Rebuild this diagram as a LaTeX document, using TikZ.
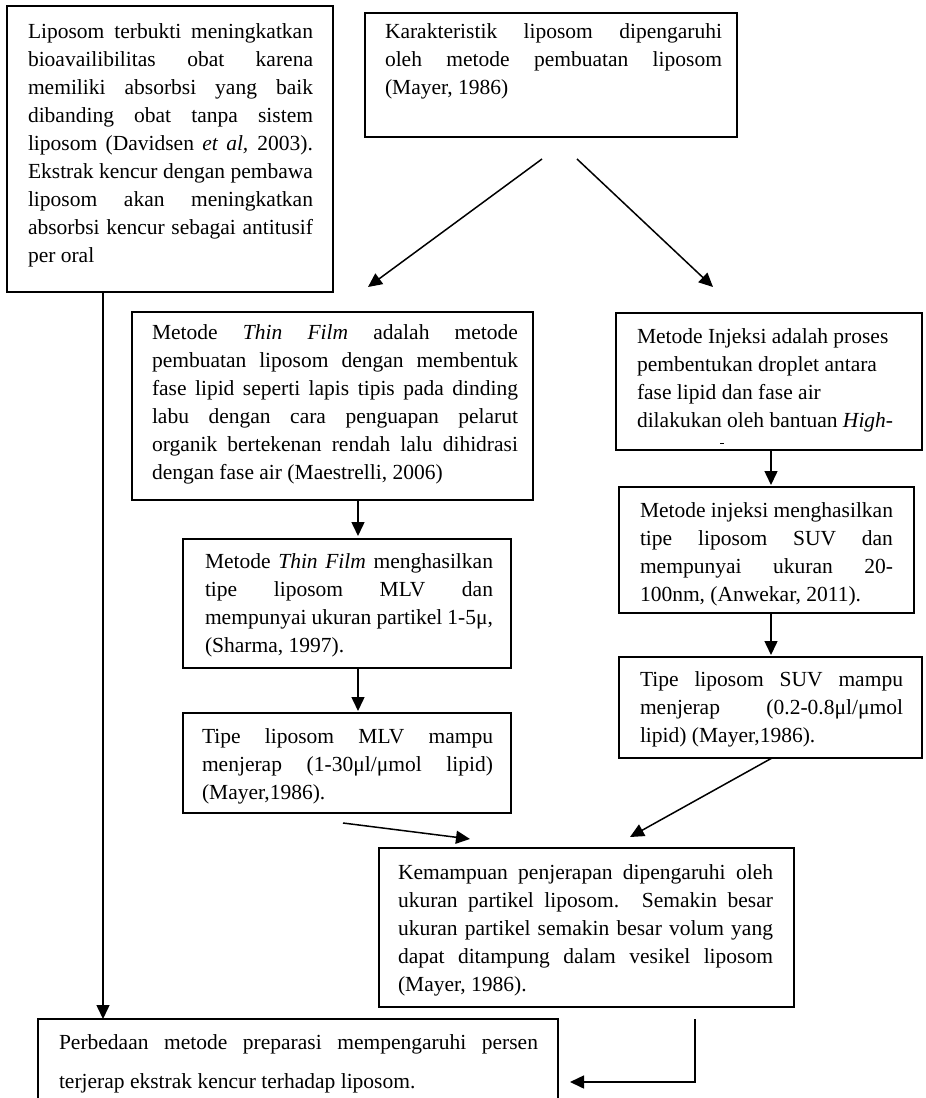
\documentclass[tikz,border=0pt]{standalone}
\usepackage{fontspec}
\setmainfont{Liberation Serif}
\usetikzlibrary{arrows.meta,calc}
\newlength\jw
\newcommand\J[1]{\makebox[\jw][s]{\spaceskip=0pt\xspaceskip=0pt #1}\\}
\begin{document}
\begin{tikzpicture}[x=1pt,y=-1pt,
  box/.style={draw=black, line width=1.4pt, rectangle, anchor=north west, inner sep=0pt, outer sep=0pt},
  txt/.style={anchor=base west, inner sep=0pt, outer sep=0pt, align=flush left, text width=#1,
    execute at begin node={\setlength{\jw}{#1}\spaceskip=0pt\xspaceskip=0pt}, font=\fontsize{21.5}{28}\selectfont},
  arr/.style={line width=1.5pt, -{Triangle[length=14pt,width=13pt]}}]
\useasboundingbox (0,0) rectangle (926,1098);
\fill[white] (0,0) rectangle (926,1098);
\clip (0,0) rectangle (926,1098);

% boxes
\node[box, minimum width=326pt, minimum height=286pt] (b1) at (7,6) {};
\node[box, minimum width=372pt, minimum height=124pt] (b2) at (365,13) {};
\node[box, minimum width=401pt, minimum height=188pt] (b3) at (132,312) {};
\node[box, minimum width=328pt, minimum height=129pt] (b4) at (183,539) {};
\node[box, minimum width=328pt, minimum height=100pt] (b5) at (183,713) {};
\node[box, minimum width=306pt, minimum height=137pt] (r1) at (616,313) {};
\node[box, minimum width=295pt, minimum height=126pt] (r2) at (619,487) {};
\node[box, minimum width=303pt, minimum height=101pt] (r3) at (619,657) {};
\node[box, minimum width=415pt, minimum height=159pt] (k) at (379,848) {};
\node[box, minimum width=520pt, minimum height=150pt] (p) at (38,1019) {};

% texts
\node[txt=285pt] (t1) at (28,38) {%
\J{Liposom terbukti meningkatkan}
\J{bioavailibilitas obat karena}
\J{memiliki absorbsi yang baik}
\J{dibanding obat tanpa sistem}
\J{liposom (Davidsen \textit{et al,} 2003).}
\J{Ekstrak kencur dengan pembawa}
\J{liposom akan meningkatkan}
\J{absorbsi kencur sebagai antitusif}
per oral};

\node[txt=337pt] (t2) at (385,38) {%
\J{Karakteristik liposom dipengaruhi}
\J{oleh metode pembuatan liposom}
(Mayer, 1986)};

\node[txt=366pt] (t3) at (152,339) {%
\J{Metode \textit{Thin Film} adalah metode}
\J{pembuatan liposom dengan membentuk}
\J{fase lipid seperti lapis tipis pada dinding}
\J{labu dengan cara penguapan pelarut}
\J{organik bertekenan rendah lalu dihidrasi}
dengan fase air (Maestrelli, 2006)};

\node[txt=288pt] (t4) at (205,568) {%
\J{Metode \textit{Thin Film} menghasilkan}
\J{tipe liposom MLV dan}
\J{mempunyai ukuran partikel 1-5μ,}
(Sharma, 1997).};

\node[txt=291pt] (t5) at (202,743) {%
\J{Tipe liposom MLV mampu}
\J{menjerap (1-30μl/μmol lipid)}
(Mayer,1986).};

\node[txt=280pt] (tr1) at (637,343) {%
Metode Injeksi adalah proses\\
pembentukan droplet antara\\
fase lipid dan fase air\\
dilakukan oleh bantuan \textit{High-}};
\draw[line width=1pt] ($(r1.north west)+(104,130)$) -- ($(r1.north west)+(108,130)$);

\node[txt=253pt] (tr2) at (640,517) {%
\J{Metode injeksi menghasilkan}
\J{tipe liposom SUV dan}
\J{mempunyai ukuran 20-}
100nm, (Anwekar, 2011).};

\node[txt=263pt] (tr3) at (640,686) {%
\J{Tipe liposom SUV mampu}
\J{menjerap (0.2-0.8μl/μmol}
lipid) (Mayer,1986).};

\node[txt=375pt] (tk) at (398,879) {%
\J{Kemampuan penjerapan dipengaruhi oleh}
\J{ukuran partikel liposom. Semakin besar}
\J{ukuran partikel semakin besar volum yang}
\J{dapat ditampung dalam vesikel liposom}
(Mayer, 1986).};

\node[txt=479pt, font=\fontsize{21.5}{39}\selectfont] (tp) at (59,1049) {%
\J{Perbedaan metode preparasi mempengaruhi persen}
terjerap ekstrak kencur terhadap liposom.};

% connectors
\draw[arr] ($(b2.south west)+(177,22)$) -- ($(b3.north west)+(236,-25)$);
\draw[arr] ($(b2.south west)+(212,22)$) -- ($(r1.north west)+(97,-26)$);
\draw[arr] ($(b1.south west)+(96,0)$) -- ($(p.north west)+(65,0)$);
\draw[arr] ($(b3.south west)+(226,0)$) -- ($(b4.north west)+(175,-3)$);
\draw[arr] ($(b4.south west)+(175,0)$) -- ($(b5.north west)+(175,-2)$);
\draw[arr] ($(r1.south west)+(155,0)$) -- ($(r2.north west)+(152,-2)$);
\draw[arr] ($(r2.south west)+(152,0)$) -- ($(r3.north west)+(152,-2)$);
\draw[arr] ($(b5.south west)+(160,10)$) -- ($(k.north west)+(91,-9)$);
\draw[arr] ($(r3.south west)+(153,0)$) -- ($(k.north west)+(251,-11)$);
\draw[arr] ($(k.south west)+(316,12)$) |- ($(p.north east)+(12,63)$);
\end{tikzpicture}
\end{document}
